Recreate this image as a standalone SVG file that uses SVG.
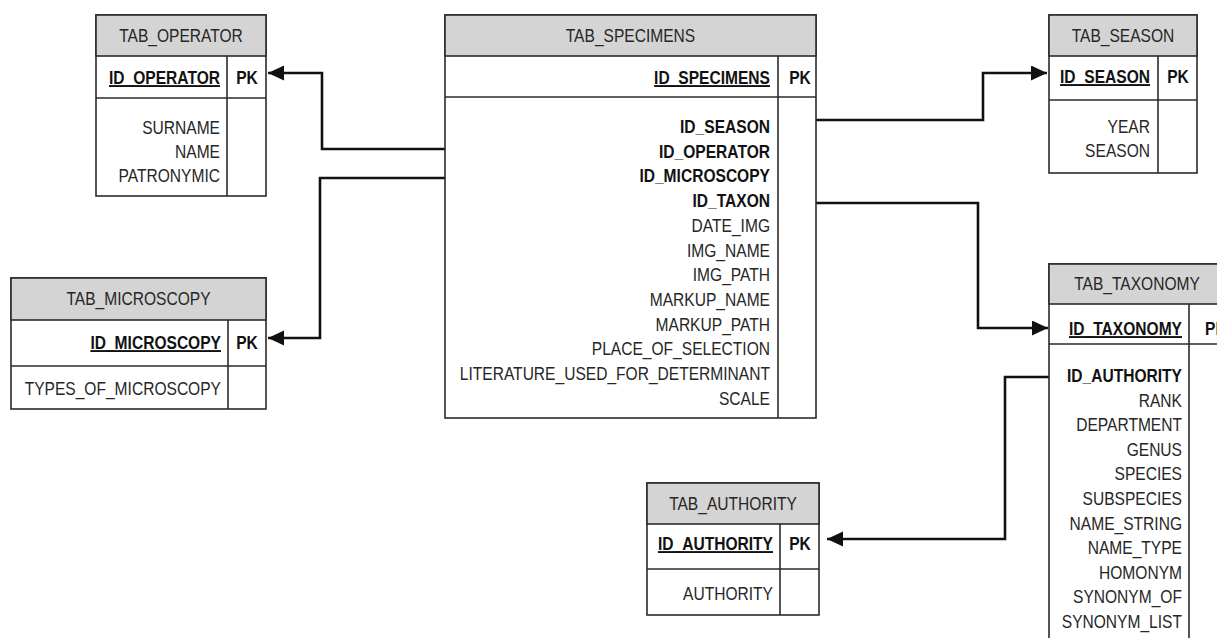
<svg xmlns="http://www.w3.org/2000/svg" width="1217" height="638" viewBox="0 0 1217 638">
  <style>
    .box { fill: #ffffff; stroke: #2b2b2b; stroke-width: 1.6; }
    .head { fill: #d4d4d4; stroke: #2b2b2b; stroke-width: 1.6; }
    .sep { stroke: #2b2b2b; stroke-width: 1.6; fill: none; }
    text { font-family: "Liberation Sans", Arial, sans-serif; font-size: 19px; fill: #262626; }
    .title { text-anchor: middle; }
    .fld { text-anchor: end; }
    .key { font-weight: bold; fill: #111111; }
    .pk { text-decoration: underline; }
    .tag { font-weight: bold; text-anchor: middle; fill: #111111; }
    .conn { fill: none; stroke: #111111; stroke-width: 2.6; }
  </style>
  <defs>
    <marker id="arrow" markerUnits="userSpaceOnUse" markerWidth="18" markerHeight="16" refX="16" refY="7.5" orient="auto">
      <path d="M0,0 L16,7.5 L0,15 z" fill="#111111"/>
    </marker>
  </defs>

  <rect width="1217" height="638" fill="#ffffff"/>

  <!-- relations -->
  <g id="connectors">
    <path class="conn" d="M445,149 H322 V73 H268" marker-end="url(#arrow)"/>
    <path class="conn" d="M445,178 H320 V338 H268" marker-end="url(#arrow)"/>
    <path class="conn" d="M816,120 H983 V73 H1047" marker-end="url(#arrow)"/>
    <path class="conn" d="M816,203 H978 V328 H1048" marker-end="url(#arrow)"/>
    <path class="conn" d="M1049,377 H1005 V539 H827" marker-end="url(#arrow)"/>
  </g>

  <!-- labels are set in a condensed cut: each text is placed by translate() and narrowed with scale(.82 1) -->

  <!-- TAB_OPERATOR -->
  <g id="tab_operator">
    <rect class="box" x="96" y="15" width="170" height="181"/>
    <rect class="head" x="96" y="15" width="170" height="41"/>
    <line class="sep" x1="96" y1="98" x2="266" y2="98"/>
    <line class="sep" x1="227" y1="56" x2="227" y2="196"/>
    <text class="title" transform="translate(181 42) scale(.82 1)">TAB_OPERATOR</text>
    <text class="fld key pk" transform="translate(220 84) scale(.82 1)">ID_OPERATOR</text>
    <text class="tag" transform="translate(247 84) scale(.82 1)">PK</text>
    <text class="fld" transform="translate(220 134) scale(.82 1)">SURNAME</text>
    <text class="fld" transform="translate(220 158) scale(.82 1)">NAME</text>
    <text class="fld" transform="translate(220 182) scale(.82 1)">PATRONYMIC</text>
  </g>

  <!-- TAB_MICROSCOPY -->
  <g id="tab_microscopy">
    <rect class="box" x="11" y="278" width="255" height="131"/>
    <rect class="head" x="11" y="278" width="255" height="42"/>
    <line class="sep" x1="11" y1="366" x2="266" y2="366"/>
    <line class="sep" x1="228" y1="320" x2="228" y2="409"/>
    <text class="title" transform="translate(138.5 305) scale(.82 1)">TAB_MICROSCOPY</text>
    <text class="fld key pk" transform="translate(221 349) scale(.82 1)">ID_MICROSCOPY</text>
    <text class="tag" transform="translate(247 349) scale(.82 1)">PK</text>
    <text class="fld" transform="translate(221 395) scale(.82 1)">TYPES_OF_MICROSCOPY</text>
  </g>

  <!-- TAB_SPECIMENS -->
  <g id="tab_specimens">
    <rect class="box" x="445" y="15" width="371" height="403"/>
    <rect class="head" x="445" y="15" width="371" height="41"/>
    <line class="sep" x1="445" y1="97" x2="816" y2="97"/>
    <line class="sep" x1="778" y1="56" x2="778" y2="418"/>
    <text class="title" transform="translate(630.5 42) scale(.82 1)">TAB_SPECIMENS</text>
    <text class="fld key pk" transform="translate(770 84) scale(.82 1)">ID_SPECIMENS</text>
    <text class="tag" transform="translate(800 84) scale(.82 1)">PK</text>
    <text class="fld key" transform="translate(770 133) scale(.82 1)">ID_SEASON</text>
    <text class="fld key" transform="translate(770 157.7) scale(.82 1)">ID_OPERATOR</text>
    <text class="fld key" transform="translate(770 182.4) scale(.82 1)">ID_MICROSCOPY</text>
    <text class="fld key" transform="translate(770 207.1) scale(.82 1)">ID_TAXON</text>
    <text class="fld" transform="translate(770 231.8) scale(.82 1)">DATE_IMG</text>
    <text class="fld" transform="translate(770 256.5) scale(.82 1)">IMG_NAME</text>
    <text class="fld" transform="translate(770 281.2) scale(.82 1)">IMG_PATH</text>
    <text class="fld" transform="translate(770 305.9) scale(.82 1)">MARKUP_NAME</text>
    <text class="fld" transform="translate(770 330.6) scale(.82 1)">MARKUP_PATH</text>
    <text class="fld" transform="translate(770 355.3) scale(.82 1)">PLACE_OF_SELECTION</text>
    <text class="fld" transform="translate(770 380) scale(.82 1)">LITERATURE_USED_FOR_DETERMINANT</text>
    <text class="fld" transform="translate(770 404.7) scale(.82 1)">SCALE</text>
  </g>

  <!-- TAB_SEASON -->
  <g id="tab_season">
    <rect class="box" x="1049" y="15" width="148" height="158"/>
    <rect class="head" x="1049" y="15" width="148" height="41"/>
    <line class="sep" x1="1049" y1="100" x2="1197" y2="100"/>
    <line class="sep" x1="1158" y1="56" x2="1158" y2="173"/>
    <text class="title" transform="translate(1123 42) scale(.82 1)">TAB_SEASON</text>
    <text class="fld key pk" transform="translate(1150 83) scale(.82 1)">ID_SEASON</text>
    <text class="tag" transform="translate(1178 83) scale(.82 1)">PK</text>
    <text class="fld" transform="translate(1150 133) scale(.82 1)">YEAR</text>
    <text class="fld" transform="translate(1150 157) scale(.82 1)">SEASON</text>
  </g>

  <!-- TAB_TAXONOMY (runs past the right and bottom edges) -->
  <g id="tab_taxonomy">
    <rect class="box" x="1049" y="264" width="186" height="400"/>
    <rect class="head" x="1049" y="264" width="186" height="40"/>
    <line class="sep" x1="1049" y1="344" x2="1235" y2="344"/>
    <line class="sep" x1="1189" y1="304" x2="1189" y2="664"/>
    <text class="title" transform="translate(1137 290) scale(.82 1)">TAB_TAXONOMY</text>
    <text class="fld key pk" transform="translate(1182 335) scale(.82 1)">ID_TAXONOMY</text>
    <text class="tag" transform="translate(1205 335) scale(.82 1)" style="text-anchor:start">PK</text>
    <text class="fld key" transform="translate(1182 382) scale(.82 1)">ID_AUTHORITY</text>
    <text class="fld" transform="translate(1182 406.6) scale(.82 1)">RANK</text>
    <text class="fld" transform="translate(1182 431.2) scale(.82 1)">DEPARTMENT</text>
    <text class="fld" transform="translate(1182 455.8) scale(.82 1)">GENUS</text>
    <text class="fld" transform="translate(1182 480.4) scale(.82 1)">SPECIES</text>
    <text class="fld" transform="translate(1182 505) scale(.82 1)">SUBSPECIES</text>
    <text class="fld" transform="translate(1182 529.6) scale(.82 1)">NAME_STRING</text>
    <text class="fld" transform="translate(1182 554.2) scale(.82 1)">NAME_TYPE</text>
    <text class="fld" transform="translate(1182 578.8) scale(.82 1)">HOMONYM</text>
    <text class="fld" transform="translate(1182 603.4) scale(.82 1)">SYNONYM_OF</text>
    <text class="fld" transform="translate(1182 628) scale(.82 1)">SYNONYM_LIST</text>
  </g>

  <!-- TAB_AUTHORITY -->
  <g id="tab_authority">
    <rect class="box" x="647" y="483" width="172" height="132"/>
    <rect class="head" x="647" y="483" width="172" height="41"/>
    <line class="sep" x1="647" y1="569" x2="819" y2="569"/>
    <line class="sep" x1="780" y1="524" x2="780" y2="615"/>
    <text class="title" transform="translate(733 510) scale(.82 1)">TAB_AUTHORITY</text>
    <text class="fld key pk" transform="translate(773 550) scale(.82 1)">ID_AUTHORITY</text>
    <text class="tag" transform="translate(800 550) scale(.82 1)">PK</text>
    <text class="fld" transform="translate(773 600) scale(.82 1)">AUTHORITY</text>
  </g>
</svg>
